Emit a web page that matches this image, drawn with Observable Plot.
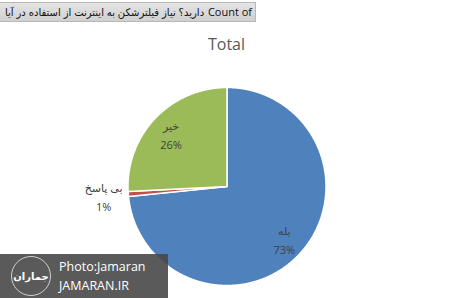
<!DOCTYPE html>
<html>
<head>
<meta charset="utf-8">
<script src="https://cdn.jsdelivr.net/npm/d3@7"></script>
<script src="https://cdn.jsdelivr.net/npm/@observablehq/plot@0.6"></script>
<style>
  html, body { margin: 0; padding: 0; background: #fff; }
  #wrap { position: relative; width: 449px; height: 298px; overflow: hidden; font-family: "Open Sans", "DejaVu Sans", sans-serif; }
  #header { position: absolute; left: 0; top: 2px; width: 256px; height: 20px; box-sizing: border-box;
    background: linear-gradient(#e4e4e4, #d0d0d0); border: 1px solid #b8b8b8; border-left: none; overflow: hidden; }
  #htext { position: absolute; left: 5px; top: 0; height: 18px; font-size: 10.5px; line-height: 18px; color: #111;
    white-space: nowrap; display: inline-flex; gap: 3px; align-items: center; font-family: "DejaVu Sans", sans-serif;
    transform-origin: 0 50%; }
  #htext span.l { font-family: "Open Sans", sans-serif; font-size: 11.5px; margin-left: 1px; }
  #title { position: absolute; left: 0; width: 453px; top: 33px; text-align: center; font-size: 16px; color: #595959; }
  #mark { position: absolute; left: 0; top: 254px; width: 168px; height: 44px; background: rgba(72,72,72,0.9); }
  #logo { position: absolute; left: 11px; top: 2px; width: 40px; height: 40px; border-radius: 50%;
    border: 1.5px solid #d0d0d0; box-sizing: border-box; color: #fff; font-size: 10px; font-weight: bold;
    display: flex; align-items: center; justify-content: center; font-family: "DejaVu Sans", sans-serif; }
  #mtext { position: absolute; left: 59px; top: 3px; color: #fff; font-size: 12.5px; line-height: 19px; font-family: "Open Sans", sans-serif; }
  svg { position: absolute; left: 0; top: 0; }
</style>
</head>
<body>
<div id="wrap">
  <div id="chart"></div>
  <div id="header"><div id="htext"></div></div>
  <div id="title"></div>
  <div id="mark"><div id="logo"><bdi>جماران</bdi></div><div id="mtext"></div></div>
</div>
<script>
const headerWords = ["آیا", "در", "استفاده", "از", "اینترنت", "به", "فیلترشکن", "نیاز", "دارید؟", "Count of"];
const chartTitle = "Total";
const categories = ["بله", "بی پاسخ", "خیر"];
const values = [73.4, 0.8, 25.8];
const percentLabels = ["73%", "1%", "26%"];
const watermarkLines = ["Photo:Jamaran", "JAMARAN.IR"];

const colors = ["#4F81BD", "#C0504D", "#9BBB59"];

const htext = document.getElementById("htext");
htext.innerHTML = headerWords
  .map(w => `<span dir="auto" class="${/[A-Za-z]/.test(w) ? "l" : "p"}">${w}</span>`).join("");
const natural = htext.getBoundingClientRect().width;
htext.style.transform = `scaleX(${247 / natural})`;
document.getElementById("title").textContent = chartTitle;
document.getElementById("mtext").innerHTML = watermarkLines.join("<br>");

const data = categories.map((c, i) => ({cat: c, value: values[i], label: percentLabels[i]}));
const arcs = d3.pie().sort(null).value(d => d.value)(data);

function slicePoints(a) {
  const pts = [{x: 0, y: 0}];
  const n = Math.max(4, Math.ceil((a.endAngle - a.startAngle) / 0.005));
  for (let k = 0; k <= n; k++) {
    const t = a.startAngle + (a.endAngle - a.startAngle) * k / n;
    pts.push({x: Math.sin(t), y: Math.cos(t)});
  }
  pts.push({x: 0, y: 0});
  return pts;
}

const labels = arcs.map(a => {
  const mid = (a.startAngle + a.endAngle) / 2;
  const share = (a.endAngle - a.startAngle) / (2 * Math.PI);
  const f = share < 0.05 ? 1.25 : 0.78;
  return {x: Math.sin(mid) * f, y: Math.cos(mid) * f, text: a.data.cat + "\n" + a.data.label};
});

const chart = Plot.plot({
  width: 449,
  height: 298,
  margin: 0,
  x: {domain: [-1, 1], range: [127.5, 325.5], axis: null},
  y: {domain: [-1, 1], range: [285, 87], axis: null},
  style: {background: "transparent", fontFamily: "'Open Sans', 'DejaVu Sans', sans-serif"},
  marks: [
    ...arcs.map((a, i) => Plot.line(slicePoints(a), {x: "x", y: "y", fill: colors[i], stroke: "#fff", strokeWidth: 1.5, strokeLinejoin: "miter"})),
    Plot.text(labels, {x: "x", y: "y", text: "text", fill: "#404040", fontSize: 11, lineHeight: 1.7})
  ]
});
document.getElementById("chart").appendChild(chart);
</script>
</body>
</html>
